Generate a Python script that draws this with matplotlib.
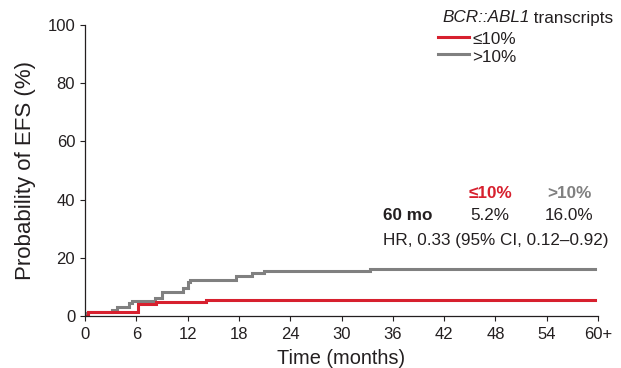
import matplotlib
matplotlib.use("Agg")
import matplotlib.pyplot as plt
from matplotlib.lines import Line2D

plt.rcParams['font.family'] = ['Liberation Sans', 'DejaVu Sans']

# Step curves (time in months, cumulative probability %)
low_t = [0, 0.3, 6.2, 8.3, 14.1, 59.6]
low_y = [0, 1.3, 4.1, 4.8, 5.4, 5.4]
high_t = [0, 0.3, 3.2, 3.7, 5.1, 5.5, 8.2, 9.0, 11.5, 12.0, 12.3, 17.7, 19.5, 20.9, 33.3, 59.6]
high_y = [0.9, 1.5, 2.1, 3.2, 4.4, 5.2, 6.3, 8.4, 9.5, 11.6, 12.4, 13.7, 14.7, 15.5, 16.2, 16.2]

xticks = [0, 6, 12, 18, 24, 30, 36, 42, 48, 54, 60]
xticklabels = ['0', '6', '12', '18', '24', '30', '36', '42', '48', '54', '60+']
yticks = [0, 20, 40, 60, 80, 100]

RED = '#d7202e'
GRAY = '#808080'
TXT = '#231f20'
FS = 12.3

fig = plt.figure(figsize=(6.21, 3.68), dpi=100)
ax = fig.add_axes([85/621, 1 - 316/368, (598-85)/621, (316-25)/368])

ax.step(high_t, high_y, where='post', color=GRAY, lw=2.2, solid_joinstyle='miter')
ax.step(low_t, low_y, where='post', color=RED, lw=2.2, solid_joinstyle='miter')

ax.set_xlim(0, 60)
ax.set_ylim(0, 100)
ax.set_xticks(xticks)
ax.set_xticklabels(xticklabels)
ax.set_yticks(yticks)
for s in ['top', 'right']:
    ax.spines[s].set_visible(False)
for s in ['left', 'bottom']:
    ax.spines[s].set_color(TXT)
    ax.spines[s].set_linewidth(0.9)
ax.tick_params(direction='out', length=3.6, width=0.8, color=TXT, labelsize=12,
               labelcolor=TXT)
ax.tick_params(axis='x', pad=4.5)
ax.tick_params(axis='y', pad=3.5)
ax.set_xlabel('Time (months)', fontsize=14.4, color=TXT, labelpad=5)
ax.set_ylabel('Probability of EFS (%)', fontsize=16, color=TXT, labelpad=8)

# legend
renderer = fig.canvas.get_renderer()
t1 = fig.text(442/621, 1 - 18/368, 'BCR::ABL1', fontsize=FS, style='italic',
              color=TXT, va='center', ha='left')
bb = t1.get_window_extent(renderer=renderer)
fig.text(bb.x1/621, 1 - 18/368, ' transcripts', fontsize=FS, color=TXT, va='center', ha='left')
for yy, col, lab in [(37, RED, '≤10%'), (54, GRAY, '>10%')]:
    fig.add_artist(Line2D([438/621, 469/621], [1 - yy/368, 1 - yy/368], color=col, lw=2.2))
    fig.text(472/621, 1 - (yy+3)/368, lab, fontsize=FS, color=TXT, va='center', ha='left')

# annotations
fig.text(490/621, 1 - 194/368, '≤10%', fontsize=FS, color=RED, weight='bold', ha='center', va='center')
fig.text(569/621, 1 - 194/368, '>10%', fontsize=FS, color=GRAY, weight='bold', ha='center', va='center')
fig.text(383/621, 1 - 215/368, '60 mo', fontsize=FS, color=TXT, weight='bold', ha='left', va='center')
fig.text(490/621, 1 - 215/368, '5.2%', fontsize=FS, color=TXT, ha='center', va='center')
fig.text(569/621, 1 - 215/368, '16.0%', fontsize=FS, color=TXT, ha='center', va='center')
fig.text(383/621, 1 - 240/368, 'HR, 0.33 (95% CI, 0.12–0.92)', fontsize=FS, color=TXT, ha='left', va='center')

fig.savefig('out.png', dpi=100)
